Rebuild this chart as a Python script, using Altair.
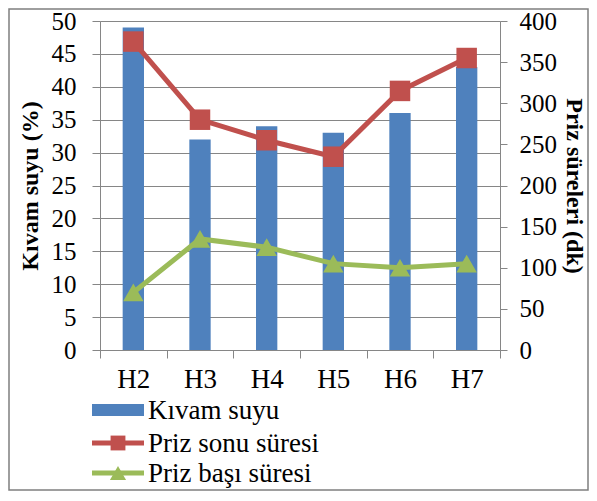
import altair as alt
import pandas as pd

categories = ["H2", "H3", "H4", "H5", "H6", "H7"]
kivam_suyu = [49, 32, 34, 33, 36, 43]
priz_sonu = [375, 280, 255, 235, 315, 355]
priz_basi = [70, 135, 125, 105, 100, 105]
legend_labels = ["Kıvam suyu", "Priz sonu süresi", "Priz başı süresi"]

df = pd.DataFrame({"cat": categories, "kivam": kivam_suyu, "sonu": priz_sonu, "basi": priz_basi})
leg = pd.DataFrame({"label": legend_labels})

FONT = "Liberation Serif"
GRID = "#868686"
BLUE = "#4F81BD"
RED = "#C0504D"
GREEN = "#9BBB59"
YFS = 25
XFS = 27
LFS = 27
TFS = 24

W, H = 400, 329

xenc = alt.X("cat:N", sort=categories, title=None,
             scale=alt.Scale(paddingInner=0, paddingOuter=0),
             axis=alt.Axis(labelAngle=0, tickBand="extent", tickSize=8, labelPadding=8,
                           labelFontSize=XFS, labelFont=FONT, labelColor="black",
                           domainColor=GRID, tickColor=GRID, grid=False))

base = alt.Chart(df)

bars = base.mark_bar(color=BLUE, width={"band": 0.32}).encode(
    x=xenc,
    y=alt.Y("kivam:Q", scale=alt.Scale(domain=[0, 50], nice=False),
            axis=alt.Axis(orient="left", values=list(range(0, 51, 5)), title="Kıvam suyu (%)",
                          grid=True, gridColor=GRID, gridWidth=1, tickSize=8, labelPadding=16,
                          labelFontSize=YFS, labelFont=FONT, labelColor="black",
                          titleFontSize=TFS, titleFont=FONT, titleFontWeight="bold",
                          titleColor="black", titlePadding=9,
                          domainColor=GRID, tickColor=GRID)),
)

right_axis = alt.Axis(orient="right", values=list(range(0, 401, 50)), title="Priz süreleri (dk)",
                      grid=False, tickSize=7, labelPadding=12,
                      labelFontSize=YFS, labelFont=FONT, labelColor="black",
                      titleFontSize=TFS, titleFont=FONT, titleFontWeight="bold",
                      titleColor="black", titlePadding=5,
                      domainColor=GRID, tickColor=GRID)
rscale = alt.Scale(domain=[0, 400], nice=False)

sonu_line = base.mark_line(color=RED, strokeWidth=5).encode(
    x=xenc, y=alt.Y("sonu:Q", scale=rscale, axis=right_axis))
sonu_pts = base.mark_point(shape="square", filled=True, color=RED, size=420, opacity=1).encode(
    x=xenc, y=alt.Y("sonu:Q", scale=rscale, axis=right_axis))
basi_line = base.mark_line(color=GREEN, strokeWidth=5).encode(
    x=xenc, y=alt.Y("basi:Q", scale=rscale, axis=right_axis))
basi_pts = base.mark_point(shape="triangle-up", filled=True, color=GREEN, size=420, opacity=1).encode(
    x=xenc, y=alt.Y("basi:Q", scale=rscale, axis=right_axis))

right = alt.layer(sonu_line, basi_line, sonu_pts, basi_pts)

# manual legend
lx0, lx1 = -8, 44
rows_y = [389, 422, 452]
lb = alt.Chart(leg)
leg_layers = []
leg_layers.append(lb.transform_filter(alt.datum.label == legend_labels[0]).mark_rect(color=BLUE).encode(
    x=alt.value(lx0), x2=alt.value(lx1), y=alt.value(rows_y[0] - 6), y2=alt.value(rows_y[0] + 6)))
leg_layers.append(lb.transform_filter(alt.datum.label == legend_labels[1]).mark_rule(color=RED, strokeWidth=5).encode(
    x=alt.value(lx0), x2=alt.value(lx1), y=alt.value(rows_y[1])))
leg_layers.append(lb.transform_filter(alt.datum.label == legend_labels[1]).mark_point(
    shape="square", filled=True, color=RED, size=220, opacity=1).encode(
    x=alt.value((lx0 + lx1) / 2), y=alt.value(rows_y[1])))
leg_layers.append(lb.transform_filter(alt.datum.label == legend_labels[2]).mark_rule(color=GREEN, strokeWidth=5).encode(
    x=alt.value(lx0), x2=alt.value(lx1), y=alt.value(rows_y[2])))
leg_layers.append(lb.transform_filter(alt.datum.label == legend_labels[2]).mark_point(
    shape="triangle-up", filled=True, color=GREEN, size=260, opacity=1).encode(
    x=alt.value((lx0 + lx1) / 2), y=alt.value(rows_y[2])))
for lab, yy in zip(legend_labels, rows_y):
    leg_layers.append(lb.transform_filter(alt.datum.label == lab).mark_text(
        align="left", baseline="middle", font=FONT, fontSize=LFS, color="black").encode(
        x=alt.value(lx1 + 4), y=alt.value(yy + 1), text="label:N"))

border = alt.Chart(pd.DataFrame({"b": [0]})).mark_rect(
    fill="white", fillOpacity=0, stroke="#7f7f7f", strokeWidth=1.5).encode(
    x=alt.value(-91), x2=alt.value(488), y=alt.value(-12), y2=alt.value(469))

chart = alt.layer(bars, right, *leg_layers, border).resolve_scale(y="independent").properties(
    width=W, height=H,
    autosize=alt.AutoSizeParams(type="none"),
    padding={"left": 92, "top": 13, "right": 89, "bottom": 141},
).configure_view(stroke=None).configure(background="white")

chart.save("out.html", embed_options={"renderer": "svg", "actions": False})
